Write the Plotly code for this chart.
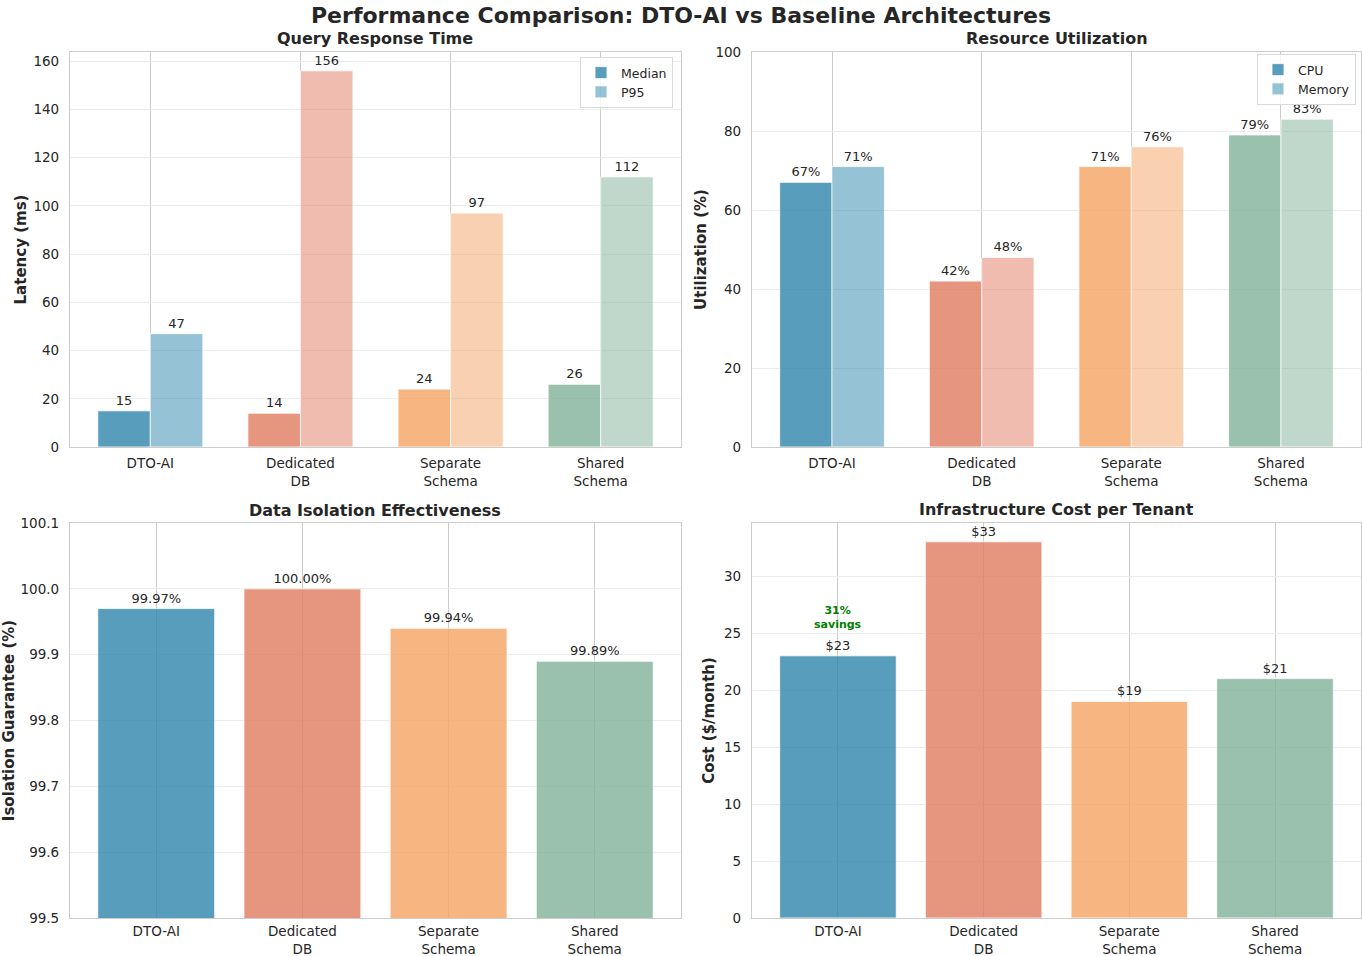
import plotly.graph_objects as go

# ---------------- data ----------------
categories = ["DTO-AI", "Dedicated DB", "Separate Schema", "Shared Schema"]
tick_labels = ["DTO-AI", "Dedicated<br>DB", "Separate<br>Schema", "Shared<br>Schema"]
median_ms = [15, 14, 24, 26]
p95_ms = [47, 156, 97, 112]
cpu_pct = [67, 42, 71, 79]
memory_pct = [71, 48, 76, 83]
isolation_pct = [99.97, 100.00, 99.94, 99.89]
cost_usd = [23, 33, 19, 21]
savings_label = "31%<br>savings"

base_rgb = [(46, 134, 171), (224, 122, 95), (244, 162, 97), (129, 178, 154)]


def rgba(c, a):
    return "rgba(%d,%d,%d,%s)" % (c[0], c[1], c[2], a)


strong = [rgba(c, 0.8) for c in base_rgb]
light = [rgba(c, 0.5) for c in base_rgb]

W, H = 1362, 956
FONT = "DejaVu Sans"
TXT = "#262626"


def fx(p):
    return p / W


def fy(p):
    return 1 - p / H


def px_x(a, b):
    return [fx(a), fx(b)]


def px_y(top, bottom):
    return [fy(bottom), fy(top)]


dom = {
    1: (px_x(70, 681), px_y(52, 447)),
    2: (px_x(752, 1361), px_y(52, 447)),
    3: (px_x(70, 681), px_y(523, 918)),
    4: (px_x(752, 1361), px_y(523, 918)),
}

fig = go.Figure()
edge = dict(color="rgba(255,255,255,0.8)", width=1)
lab_font = dict(family=FONT, size=13, color=TXT)

# Query response time
fig.add_trace(go.Bar(x=categories, y=median_ms, name="Median", marker=dict(color=strong, line=edge),
                     texttemplate="%{y}", textposition="outside", textfont=lab_font,
                     cliponaxis=False, constraintext="none", xaxis="x", yaxis="y", legend="legend"))
fig.add_trace(go.Bar(x=categories, y=p95_ms, name="P95", marker=dict(color=light, line=edge),
                     texttemplate="%{y}", textposition="outside", textfont=lab_font,
                     cliponaxis=False, constraintext="none", xaxis="x", yaxis="y", legend="legend"))
# Resource utilization
fig.add_trace(go.Bar(x=categories, y=cpu_pct, name="CPU", marker=dict(color=strong, line=edge),
                     texttemplate="%{y}%", textposition="outside", textfont=lab_font,
                     cliponaxis=False, constraintext="none", xaxis="x2", yaxis="y2", legend="legend2"))
fig.add_trace(go.Bar(x=categories, y=memory_pct, name="Memory", marker=dict(color=light, line=edge),
                     texttemplate="%{y}%", textposition="outside", textfont=lab_font,
                     cliponaxis=False, constraintext="none", xaxis="x2", yaxis="y2", legend="legend2"))
# Isolation
fig.add_trace(go.Bar(x=categories, y=isolation_pct, width=0.8, showlegend=False,
                     marker=dict(color=strong, line=edge),
                     texttemplate="%{y:.2f}%", textposition="outside", textfont=lab_font,
                     cliponaxis=False, constraintext="none", xaxis="x3", yaxis="y3"))
# Cost
fig.add_trace(go.Bar(x=categories, y=cost_usd, width=0.8, showlegend=False,
                     marker=dict(color=strong, line=edge),
                     texttemplate="$%{y}", textposition="outside", textfont=lab_font,
                     cliponaxis=False, constraintext="none", xaxis="x4", yaxis="y4"))

tickfont = dict(family=FONT, size=13.5, color=TXT)
title_font = dict(family=FONT, size=15, color=TXT, weight="bold")

xrange_group = [-0.535, 3.535]
xrange_single = [-0.59, 3.59]


def xax(i, rng, standoff=4):
    return dict(domain=dom[i][0], anchor="y" if i == 1 else "y%d" % i, type="category",
                categoryorder="array", categoryarray=categories,
                tickvals=categories, ticktext=tick_labels, range=rng,
                showgrid=True, gridcolor="#cccccc", gridwidth=1,
                showline=True, linecolor="#cccccc", linewidth=1.2, mirror=True,
                ticks="", tickfont=tickfont, ticklabelstandoff=standoff, automargin=False)


def yax(i, rng, dtick, title, fmt=None, standoff=10):
    d = dict(domain=dom[i][1], anchor="x" if i == 1 else "x%d" % i, range=rng, dtick=dtick,
             showgrid=True, gridcolor="#ececec", gridwidth=1, zeroline=False,
             showline=True, linecolor="#cccccc", linewidth=1.2, mirror=True,
             ticks="", tickfont=tickfont, ticklabelstandoff=7, automargin=False,
             title=dict(text=title, font=title_font, standoff=standoff))
    if fmt:
        d["tickformat"] = fmt
    return d


leg_common = dict(yanchor="top", xanchor="right", bgcolor="rgba(255,255,255,0.8)",
                  bordercolor="#d9d9d9", borderwidth=1, tracegroupgap=0,
                  font=dict(family=FONT, size=12.5, color=TXT))

fig.update_layout(
    width=W, height=H,
    margin=dict(l=0, r=0, t=0, b=0, autoexpand=False),
    paper_bgcolor="white", plot_bgcolor="white",
    font=dict(family=FONT, color=TXT),
    barmode="group", bargap=0.3, bargroupgap=0,
    xaxis=xax(1, xrange_group),
    xaxis2=xax(2, xrange_group),
    xaxis3=xax(3, xrange_single, standoff=1),
    xaxis4=xax(4, xrange_single, standoff=1),
    yaxis=yax(1, [0, 163.8], 20, "Latency (ms)", standoff=3),
    yaxis2=yax(2, [0, 100], 20, "Utilization (%)", standoff=5),
    yaxis3=yax(3, [99.5, 100.1], 0.1, "Isolation Guarantee (%)", fmt=".1f", standoff=8),
    yaxis4=yax(4, [0, 34.65], 5, "Cost ($/month)", standoff=5),
    legend=dict(x=fx(673), y=fy(57), **leg_common),
    legend2=dict(x=fx(1356), y=fy(54), **leg_common),
)

sub_titles = [
    ("Query Response Time", 1, 38),
    ("Resource Utilization", 2, 38),
    ("Data Isolation Effectiveness", 3, 510),
    ("Infrastructure Cost per Tenant", 4, 509),
]
ann = []
for text, i, ypx in sub_titles:
    ann.append(dict(text="<b>%s</b>" % text, x=sum(dom[i][0]) / 2, y=fy(ypx),
                    xref="paper", yref="paper", xanchor="center", yanchor="middle",
                    showarrow=False, font=dict(family=FONT, size=16, color=TXT)))
ann.append(dict(text="<b>Performance Comparison: DTO-AI vs Baseline Architectures</b>",
                x=fx(681), y=fy(1), xref="paper", yref="paper", xanchor="center", yanchor="top",
                showarrow=False, font=dict(family=FONT, size=22, color=TXT)))
ann.append(dict(text="<b>%s</b>" % savings_label, x=categories[0], y=cost_usd[0] + 2,
                xref="x4", yref="y4", xanchor="center", yanchor="bottom", showarrow=False,
                font=dict(family=FONT, size=11, color="#008000")))
fig.update_layout(annotations=ann)

fig.write_html("out.html", config={"displayModeBar": False},
               post_script="document.body.style.margin='0';document.body.style.overflow='hidden';")
